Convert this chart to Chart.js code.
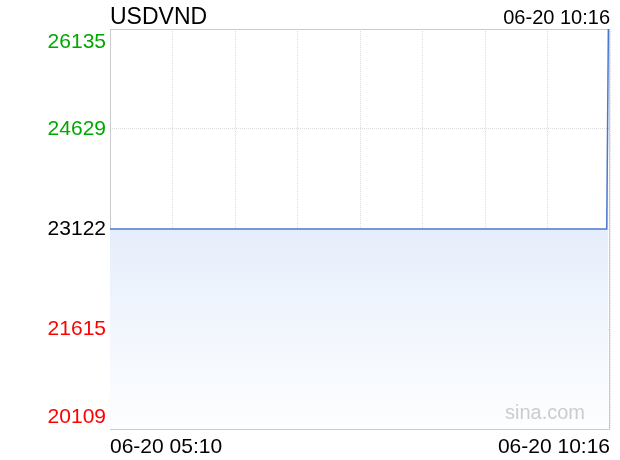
<!DOCTYPE html>
<html>
<head>
<meta charset="utf-8">
<script src="https://cdn.jsdelivr.net/npm/chart.js@4"></script>
<style>
  html, body { margin: 0; padding: 0; background: #fff; }
  #wrap { width: 620px; height: 460px; }
</style>
</head>
<body>
<div id="wrap"><canvas id="c" width="620" height="460"></canvas></div>
<script>
const symbol = "USDVND";
const day = "06-20";
const times = ["05:10", "05:25", "05:40", "05:55", "06:10", "06:25", "06:40", "06:55",
  "07:10", "07:25", "07:40", "07:55", "08:10", "08:25", "08:40", "08:55",
  "09:10", "09:25", "09:40", "09:55", "10:10", "10:15", "10:16"];
const prices = [23122, 23122, 23122, 23122, 23122, 23122, 23122, 23122,
  23122, 23122, 23122, 23122, 23122, 23122, 23122, 23122,
  23122, 23122, 23122, 23122, 23122, 23122, 26135];
const yTicks = [26135, 24629, 23122, 21615, 20109];
const prevClose = 23122;

const FONT = '"Liberation Sans", Arial, Helvetica, sans-serif';

function toMin(t) {
  const p = t.split(":");
  return +p[0] * 60 + +p[1];
}
const start = toMin(times[0]);
const points = times.map((t, i) => ({ x: toMin(t) - start, y: prices[i] }));
const xMax = toMin(times[times.length - 1]) - start + 1;

const extras = {
  id: "extras",
  beforeDatasetsDraw(chart) {
    const { ctx, chartArea: a } = chart;
    ctx.save();
    ctx.strokeStyle = "#cccccc";
    ctx.lineWidth = 1;
    ctx.strokeRect(a.left + 0.5, a.top + 0.5, a.right - a.left - 1, a.bottom - a.top);
    ctx.restore();
  },
  afterDatasetsDraw(chart) {
    const { ctx, chartArea: a } = chart;
    ctx.save();
    ctx.fillStyle = "#cccccc";
    ctx.font = "20px " + FONT;
    ctx.textAlign = "right";
    ctx.textBaseline = "alphabetic";
    ctx.fillText("sina.com", a.right - 25, a.bottom - 10);
    ctx.restore();
  },
  afterDraw(chart) {
    const { ctx, chartArea: a, scales } = chart;
    const y = scales.y;
    ctx.save();
    ctx.fillStyle = "#000";
    ctx.textBaseline = "alphabetic";
    ctx.font = "23px " + FONT;
    ctx.textAlign = "left";
    ctx.fillText(symbol, a.left, 24);
    ctx.font = "20px " + FONT;
    ctx.textAlign = "right";
    ctx.fillText(day + " " + times[times.length - 1], a.right, 24);

    ctx.font = "21px " + FONT;
    ctx.textAlign = "right";
    ctx.textBaseline = "middle";
    yTicks.forEach((v, i) => {
      let py = y.getPixelForValue(v);
      if (i === 0) py = a.top + 13;
      if (i === yTicks.length - 1) py = a.bottom - 12;
      ctx.fillStyle = v > prevClose ? "#00a800" : v < prevClose ? "#ff0000" : "#000000";
      ctx.fillText(String(v), a.left - 4, py);
    });
    ctx.restore();
  }
};

new Chart(document.getElementById("c").getContext("2d"), {
  type: "line",
  data: {
    datasets: [{
      data: points,
      borderColor: "#4a78cf",
      borderWidth: 1.5,
      pointRadius: 0,
      tension: 0,
      fill: "start",
      backgroundColor(c) {
        const a = c.chart.chartArea;
        if (!a) return "#eaf0fc";
        const top = c.chart.scales.y.getPixelForValue(prevClose);
        const g = c.chart.ctx.createLinearGradient(0, top, 0, a.bottom);
        g.addColorStop(0, "#e6eefb");
        g.addColorStop(1, "#fdfeff");
        return g;
      },
    }],
  },
  options: {
    responsive: false,
    animation: false,
    layout: { padding: { top: 29, right: 10, left: 0, bottom: 0 } },
    plugins: { legend: { display: false }, tooltip: { enabled: false } },
    scales: {
      x: {
        type: "linear",
        min: 0,
        max: xMax,
        afterBuildTicks(scale) {
          const t = [];
          for (let i = 0; i <= 8; i++) t.push({ value: xMax * i / 8 });
          scale.ticks = t;
        },
        afterFit(scale) { scale.height = 31; },
        border: { display: false, dash: [1, 1] },
        grid: { color: "#dcdcdc", drawTicks: false },
        ticks: {
          autoSkip: false,
          maxRotation: 0,
          align: "inner",
          padding: 6,
          color: "#000",
          font: { size: 21, family: FONT },
          callback(v, i, arr) {
            if (i === 0) return day + " " + times[0];
            if (i === arr.length - 1) return day + " " + times[times.length - 1];
            return "";
          },
        },
      },
      y: {
        min: yTicks[yTicks.length - 1],
        max: yTicks[0],
        afterBuildTicks(scale) {
          scale.ticks = yTicks.map(v => ({ value: v }));
        },
        afterFit(scale) { scale.width = 110; },
        border: { display: false, dash: [1, 1] },
        grid: { color: "#dcdcdc", drawTicks: false },
        ticks: { display: false },
      },
    },
  },
  plugins: [extras],
});
</script>
</body>
</html>
